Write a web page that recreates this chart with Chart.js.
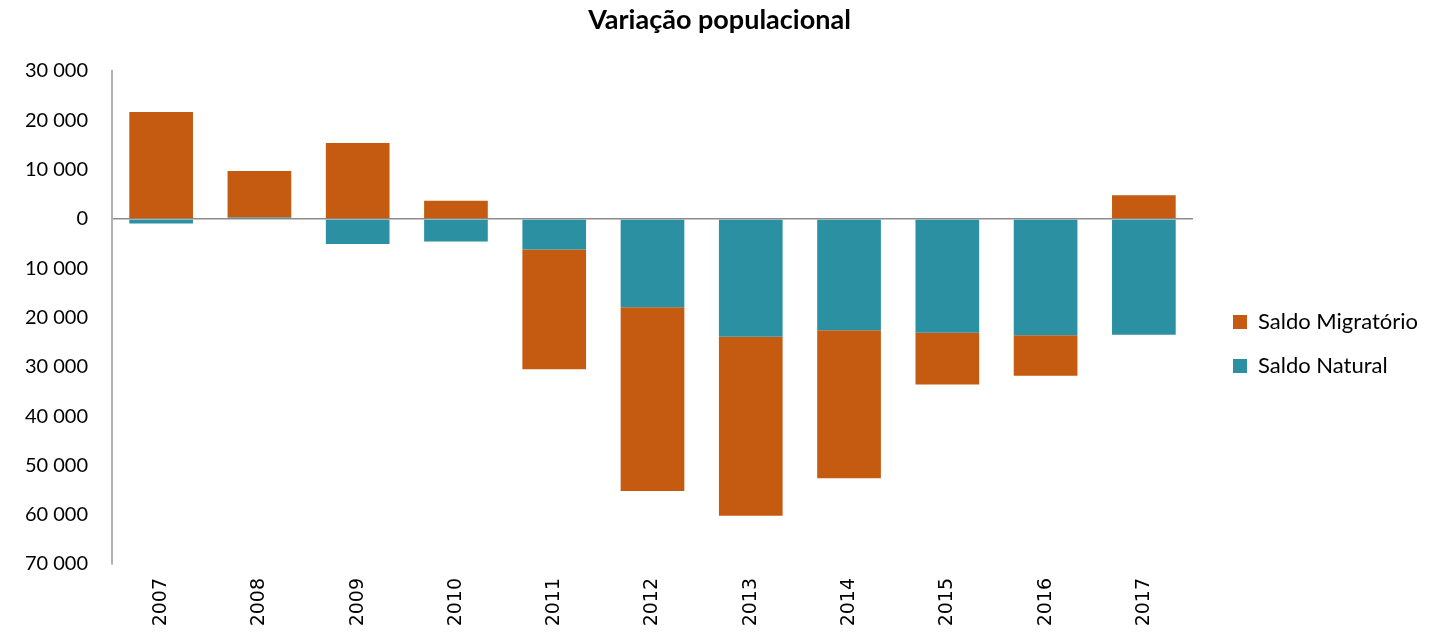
<!DOCTYPE html>
<html><head><meta charset="utf-8">
<script src="https://cdn.jsdelivr.net/npm/chart.js@4"></script>
<style>html,body{margin:0;padding:0;background:#fff}canvas{display:block}</style>
</head><body>
<canvas id="c" width="1439" height="633"></canvas>
<script>
const years = ['2007','2008','2009','2010','2011','2012','2013','2014','2015','2016','2017'];
const saldoNatural = [-950, 300, -5100, -4600, -6200, -17900, -23900, -22600, -23100, -23600, -23500];
const saldoMigratorio = [21700, 9400, 15400, 3700, -24300, -37300, -36300, -30000, -10500, -8200, 4800];
const yMin = -70000, yMax = 30000, yStep = 10000;

function fmt(v){ return String(Math.abs(v)).replace(/\B(?=(\d{3})+(?!\d))/g,' '); }

const layoutFix = {
  id: 'layoutFix',
  beforeUpdate(chart){
    const lg = chart.legend;
    if (lg && !lg._patched){
      const fit = lg.fit.bind(lg);
      lg.fit = function(){ fit(); this.width = 246; };
      lg._patched = true;
    }
  },
  afterLayout(chart){
    const lg = chart.legend;
    const w = lg.right - lg.left, h = lg.bottom - lg.top;
    lg.left = 1211; lg.right = lg.left + w;
    lg.top = 289; lg.bottom = lg.top + h;
  }
};

new Chart(document.getElementById('c'), {
  type: 'bar',
  data: {
    labels: years,
    datasets: [
      { label: 'Saldo Natural', data: saldoNatural, backgroundColor: '#2B91A2', borderWidth: 0 },
      { label: 'Saldo Migratório', data: saldoMigratorio, backgroundColor: '#C55A11', borderWidth: 0 }
    ]
  },
  plugins: [layoutFix],
  options: {
    responsive: false,
    devicePixelRatio: 1,
    animation: false,
    categoryPercentage: 1,
    barPercentage: 0.648,
    layout: { padding: 0 },
    plugins: {
      title: { display: true, text: 'Variação populacional', color: '#000',
        font: { family: 'Lato', size: 27, weight: 'bold' }, padding: { top: 4, bottom: 34.6 } },
      legend: { position: 'right', align: 'start', reverse: true,
        labels: { boxWidth: 14, boxHeight: 14, padding: 22, color: '#000', font: { family: 'Lato', size: 22 } } },
      tooltip: { enabled: false }
    },
    scales: {
      x: { stacked: true,
        grid: { display: false, drawTicks: false },
        border: { display: false },
        ticks: { maxRotation: 90, minRotation: 90, padding: 14, color: '#000', font: { family: 'DejaVu Sans', size: 19 } },
        afterFit(s){ s.height = 69; } },
      y: { stacked: true, min: yMin, max: yMax,
        ticks: { stepSize: yStep, padding: 24, color: '#000', font: { family: 'Lato', size: 20 }, callback: v => fmt(v) },
        grid: { drawTicks: false, lineWidth: 1.5, color: c => c.tick && c.tick.value === 0 ? '#8c8c8c' : 'rgba(0,0,0,0)' },
        border: { display: true, color: '#b0b0b0', width: 2 },
        afterFit(s){ s.width = 112; } }
    }
  }
});
</script>
</body></html>
